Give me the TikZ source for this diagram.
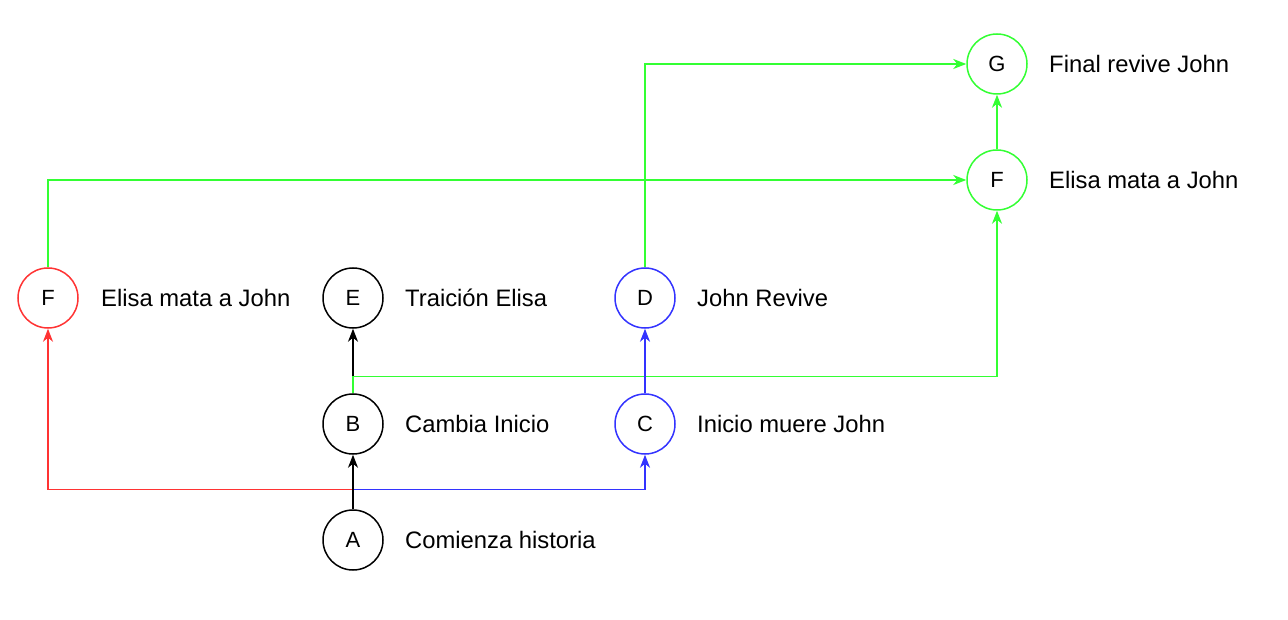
\documentclass[tikz,border=0pt]{standalone}
\usepackage{fontspec}
\setmainfont{Liberation Sans}
\usetikzlibrary{arrows.meta}
\definecolor{cred}{HTML}{FF3333}
\definecolor{cblue}{HTML}{3333FF}
\definecolor{cgreen}{HTML}{33FF33}
\begin{document}
\begin{tikzpicture}[x=1pt,y=-1pt,
  circ/.style={circle,draw,line width=1.5pt,minimum size=60pt,inner sep=0pt,font=\fontsize{22}{26}\selectfont},
  lbl/.style={anchor=west,inner sep=0pt,font=\fontsize{23.8}{28}\selectfont},
  conn/.style={line width=1.5pt,-{Stealth[length=13pt,width=10pt,inset=4pt]}}]
\useasboundingbox (0,0) rectangle (1288,620);
\node[circ] (A) at (353,540) {A};
\node[circ] (B) at (353,424) {B};
\node[circ] (E) at (353,298) {E};
\node[circ,draw=cblue] (C) at (645,424) {C};
\node[circ,draw=cblue] (D) at (645,298) {D};
\node[circ,draw=cred] (Fr) at (48,298) {F};
\node[circ,draw=cgreen] (Fg) at (997,180) {F};
\node[circ,draw=cgreen] (G) at (997,64) {G};
\node[lbl] (lA) at (405,540) {Comienza historia};
\node[lbl] (lB) at (405,424) {Cambia Inicio};
\node[lbl] (lE) at (405,298) {Traición Elisa};
\node[lbl] (lC) at (697,424) {Inicio muere John};
\node[lbl] (lD) at (697,298) {John Revive};
\node[lbl] (lFr) at (101,298) {Elisa mata a John};
\node[lbl] (lFg) at (1049,180) {Elisa mata a John};
\node[lbl] (lG) at (1049,64) {Final revive John};
% connectors
\draw[conn,cred] (A.north) -- ++(0,-20) -| (Fr.south);
\draw[conn,cblue] (A.north) -- ++(0,-20) -| (C.south);
\draw[conn] (A.north) -- (B.south);
\draw[conn] (B.north) -- (E.south);
\draw[conn,cgreen] (B.north) -- ++(0,-17) -| (Fg.south);
\draw[conn,cblue] (C.north) -- (D.south);
\draw[conn,cgreen] (D.north) |- (G.west);
\draw[conn,cgreen] (Fr.north) |- (Fg.west);
\draw[conn,cgreen] (Fg.north) -- (G.south);
\end{tikzpicture}
\end{document}
